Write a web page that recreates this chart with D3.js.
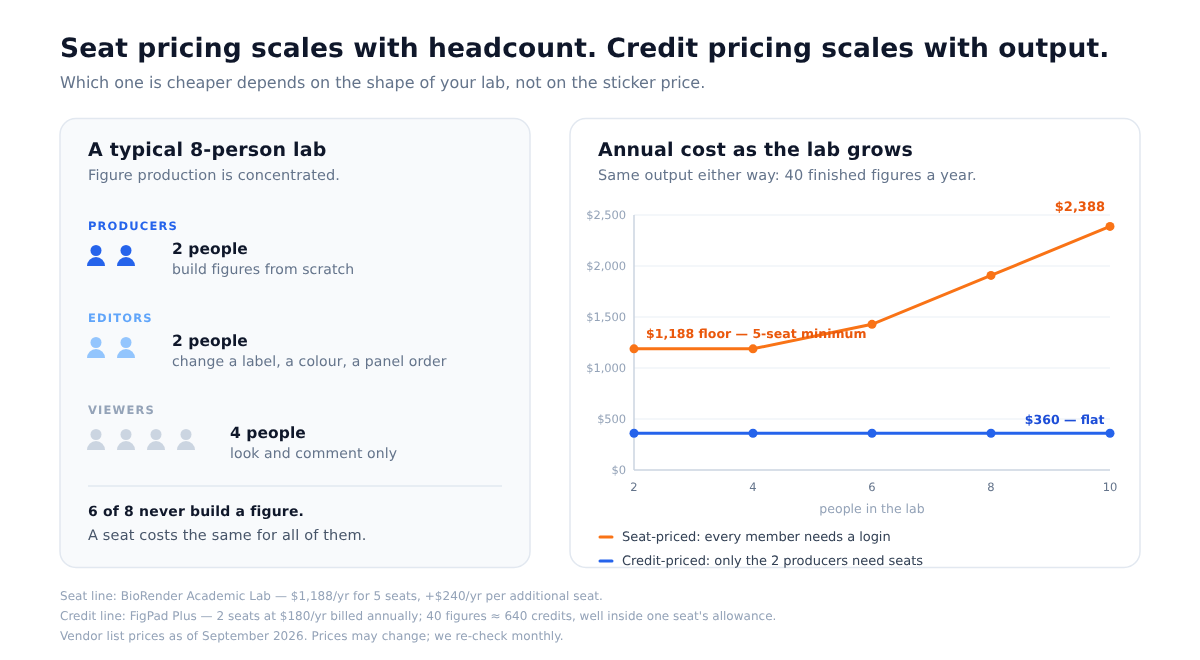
<!DOCTYPE html>
<html><head><meta charset="utf-8">
<script src="https://cdn.jsdelivr.net/npm/d3@7/dist/d3.min.js"></script>
<style>html,body{margin:0;padding:0;background:#fff}svg{display:block;will-change:transform}text{font-family:"DejaVu Sans",sans-serif;text-rendering:geometricPrecision}</style>
</head><body><svg id="c" width="1200" height="660"></svg>
<script>
const people = [2,4,6,8,10];
const seatCost = [1188,1188,1428,1908,2388];
const creditCost = [360,360,360,360,360];
const yTicks = [0,500,1000,1500,2000,2500];
const groupNames = ["PRODUCERS","EDITORS","VIEWERS"];
const groupCounts = [2,2,4];
const groupHeads = ["2 people","2 people","4 people"];
const groupNotes = ["build figures from scratch","change a label, a colour, a panel order","look and comment only"];
const groupColors = ["#2563eb","#60a5fa","#94a3b8"];
const iconColors = ["#2563eb","#93c5fd","#cbd5e1"];
const footnotes = ["Seat line: BioRender Academic Lab — $1,188/yr for 5 seats, +$240/yr per additional seat.",
 "Credit line: FigPad Plus — 2 seats at $180/yr billed annually; 40 figures ≈ 640 credits, well inside one seat's allowance.",
 "Vendor list prices as of September 2026. Prices may change; we re-check monthly."];
const footSpacing = [0.035,0.02,0.075];
const legendLabels = ["Seat-priced: every member needs a login","Credit-priced: only the 2 producers need seats"];

const svg = d3.select("#c");
function T(x,y,s,size,fill,weight,anchor,ls){
  const t = svg.append("text").attr("x",x).attr("y",y).text(s).attr("font-size",size).attr("fill",fill);
  if(weight) t.attr("font-weight",weight);
  if(anchor) t.attr("text-anchor",anchor);
  if(ls) t.attr("letter-spacing",ls);
  return t;
}
T(60,57,"Seat pricing scales with headcount. Credit pricing scales with output.",26.5,"#0f172a","700",null,0.1);
T(60,88,"Which one is cheaper depends on the shape of your lab, not on the sticker price.",16,"#64748b",null,null,-0.03);

svg.append("rect").attr("x",60).attr("y",118.5).attr("width",470).attr("height",449).attr("rx",16).attr("fill","#f8fafc").attr("stroke","#e2e8f0").attr("stroke-width",1.5);
svg.append("rect").attr("x",570).attr("y",118.5).attr("width",570).attr("height",449).attr("rx",16).attr("fill","#fff").attr("stroke","#e2e8f0").attr("stroke-width",1.5);

T(88,156,"A typical 8-person lab",19,"#0f172a","700",null,0.18);
T(88,180,"Figure production is concentrated.",14.5,"#64748b",null,null,0.1);

const rowTop = d3.scaleLinear().domain([0,1]).range([230,322]);
groupNames.forEach((g,i)=>{
  const y0 = rowTop(i);
  T(88,y0,g,11.5,groupColors[i],"700",null,1.17);
  const n = groupCounts[i];
  d3.range(n).forEach(k=>{
    const cx = 96+k*30, base = y0+36;
    svg.append("circle").attr("cx",cx).attr("cy",base-15.5).attr("r",5.5).attr("fill",iconColors[i]);
    svg.append("path").attr("d",`M${cx-9} ${base} a9 9 0 0 1 18 0 z`).attr("fill",iconColors[i]);
  });
  const tx = 88+n*30+(n===2?24:22);
  T(tx,y0+24,groupHeads[i],15.5,"#0f172a","700",null,0.07);
  T(tx,y0+44,groupNotes[i],14,"#64748b",null,null,0.1);
});
svg.append("line").attr("x1",88).attr("x2",502).attr("y1",486).attr("y2",486).attr("stroke","#e2e8f0").attr("stroke-width",1.5);
T(88,516,"6 of 8 never build a figure.",14,"#0f172a","700",null,0.18);
T(88,540,"A seat costs the same for all of them.",14.5,"#475569",null,null,0.17);

T(598,156,"Annual cost as the lab grows",19,"#0f172a","700",null,0.18);
T(598,180,"Same output either way: 40 finished figures a year.",14.5,"#64748b",null,null,0.14);

const x = d3.scaleLinear().domain([2,10]).range([634,1110]);
const y = d3.scaleLinear().domain([0,2500]).range([470,215]);
const gy = svg.append("g");
yTicks.filter(d=>d>0).forEach(d=>gy.append("line").attr("x1",x(2)).attr("x2",x(10)).attr("y1",y(d)).attr("y2",y(d)).attr("stroke","#f1f5f9").attr("stroke-width",1.5));
svg.append("line").attr("x1",x(2)).attr("x2",x(2)).attr("y1",y(2500)).attr("y2",y(0)).attr("stroke","#cbd5e1").attr("stroke-width",1.5);
svg.append("line").attr("x1",x(2)).attr("x2",x(10)).attr("y1",y(0)).attr("y2",y(0)).attr("stroke","#cbd5e1").attr("stroke-width",1.5);
yTicks.forEach(d=>T(626,y(d)+4,"$"+d3.format(",")(d),11.5,"#94a3b8",null,"end",-0.1));
people.forEach(d=>T(x(d),491,d,11.5,"#64748b",null,"middle"));
T(872,513,"people in the lab",12.5,"#94a3b8",null,"middle");

const line = d3.line().x((d,i)=>x(people[i])).y(d=>y(d));
[[seatCost,"#f97316"],[creditCost,"#2563eb"]].forEach(([vals,col])=>{
  svg.append("path").attr("d",line(vals)).attr("fill","none").attr("stroke",col).attr("stroke-width",3);
  vals.forEach((v,i)=>svg.append("circle").attr("cx",x(people[i])).attr("cy",y(v)).attr("r",4.5).attr("fill",col));
});
T(646,338,"$1,188 floor — 5-seat minimum",12.5,"#ea580c","700");
T(1105,211,"$2,388",13,"#ea580c","700","end");
T(1104.5,424,"$360 — flat",12.5,"#1d4ed8","700","end");

legendLabels.forEach((s,i)=>{
  const yy = 537+i*24;
  svg.append("line").attr("x1",600).attr("x2",612).attr("y1",yy).attr("y2",yy).attr("stroke",i?"#2563eb":"#f97316").attr("stroke-width",3).attr("stroke-linecap","round");
  T(622,yy+4,s,13,"#334155",null,null,-0.04);
});
footnotes.forEach((s,i)=>T(60,600+i*20,s,12,"#94a3b8",null,null,footSpacing[i]));
</script></body></html>
